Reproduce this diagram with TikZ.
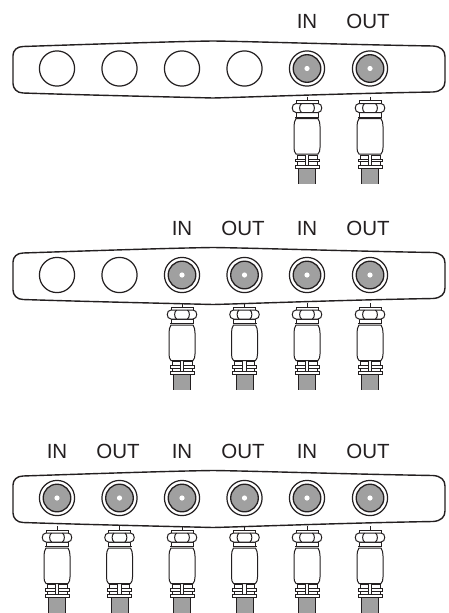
\documentclass[tikz,border=0pt]{standalone}
\usepackage{fontspec}
\setmainfont{Liberation Sans}
\definecolor{ink}{HTML}{231F20}
\definecolor{fillgray}{HTML}{A0A0A0}
\tikzset{
  x=1pt,y=-1pt,
  line join=round,
  panelline/.style={draw=ink,line width=1.4pt,fill=white},
  port/.style={draw=ink,line width=1.2pt,fill=white},
  part/.style={draw=ink,line width=1pt,fill=white},
  label/.style={font=\fontsize{20.5}{20.5}\selectfont,text=ink,inner sep=0pt,anchor=center},
  pics/emptyport/.style={code={\draw[port] (0,0) circle (17.6);}},
  pics/liveport/.style={code={
    \draw[port] (0,0) circle (17.6);
    \draw[draw=ink,line width=1.3pt,fill=fillgray] (0,0) circle (13.8);
    \fill[white] (0,0) circle (2.6);
  }},
  pics/plug/.style={code={
    % stem
    \draw[draw=ink,line width=.9pt] (0,28) -- (0,32);
    % cable
    \fill[fillgray] (-8.5,99) rectangle (8.5,115);
    \draw[draw=ink,line width=1pt] (-8.5,99) -- (-8.5,115) (8.5,99) -- (8.5,115);
    % ribs
    \draw[part] (-10,86.5) rectangle (-1.8,90.5);
    \draw[part] (1.8,86.5) rectangle (10,90.5);
    \draw[part] (-12,90.5) rectangle (-1.8,93);
    \draw[part] (1.8,90.5) rectangle (12,93);
    \draw[part] (-10,93) rectangle (-1.8,96.5);
    \draw[part] (1.8,93) rectangle (10,96.5);
    \draw[part] (-12,96.5) rectangle (12,99.5);
    % body
    \draw[part] (-11,50) .. controls (-12.5,52) and (-13,55) .. (-13,58) -- (-13,79) .. controls (-13,82) and (-12.5,84) .. (-11,85.5) -- (11,85.5) .. controls (12.5,84) and (13,82) .. (13,79) -- (13,58) .. controls (13,55) and (12.5,52) .. (11,50) -- cycle;
    % collar
    \draw[part] (-11,44) rectangle (11,48.5);
    \draw[part] (-12,48.5) -- (12,48.5);
    % nut
    \draw[part] (-11,32) rectangle (11,35.5);
    \draw[part] (-11,35) -- (11,35) .. controls (16,35) and (16,44) .. (11,44) -- (-11,44) .. controls (-16,44) and (-16,35) .. (-11,35) -- cycle;
    \draw[part,fill=none] (-5.5,35) .. controls (-8,37) and (-8,42) .. (-5.5,44) (5.5,35) .. controls (8,37) and (8,42) .. (5.5,44);
  }},
  pics/panel/.style={code={
    \draw[panelline] (-190,-22)
      .. controls (-130,-24) and (-40,-27) .. (0,-27.5)
      .. controls (40,-27) and (130,-24) .. (220,-22.5)
      .. controls (228,-22) and (232,-18) .. (232,-12)
      -- (232,13)
      .. controls (232,19) and (228,23) .. (220,23.5)
      .. controls (130,25) and (40,28.5) .. (0,29.5)
      .. controls (-40,28.5) and (-130,26.5) .. (-190,24.5)
      .. controls (-196,24.5) and (-200,20) .. (-200,15)
      -- (-200,-13)
      .. controls (-200,-18) and (-196,-22) .. (-190,-22)
      -- cycle;
  }}
}
\begin{document}
\begin{tikzpicture}
\useasboundingbox (0,0) rectangle (448,613);
% row 1
\pic at (213,68.5) {panel};
\foreach \px in {57,119.5,182,244.5} \pic at (\px,68.5) {emptyport};
\foreach \px in {307,370} {\pic at (\px,68.5) {liveport}; \pic at (\px,68.5) {plug};}
\node[label] (a1) at (307,21) {IN};
\node[label] (a2) at (368,21) {OUT};
% row 2
\pic at (213,275) {panel};
\foreach \px in {57,119.5} \pic at (\px,275) {emptyport};
\foreach \px in {182,244.5,307,370} {\pic at (\px,275) {liveport}; \pic at (\px,275) {plug};}
\node[label] (b1) at (182,228) {IN};
\node[label] (b2) at (243,228) {OUT};
\node[label] (b3) at (307,228) {IN};
\node[label] (b4) at (368,228) {OUT};
% row 3
\pic at (213,498) {panel};
\foreach \px in {57,119.5,182,244.5,307,370} {\pic at (\px,498) {liveport}; \pic at (\px,498) {plug};}
\node[label] (c1) at (57,451) {IN};
\node[label] (c2) at (118,451) {OUT};
\node[label] (c3) at (182,451) {IN};
\node[label] (c4) at (243,451) {OUT};
\node[label] (c5) at (307,451) {IN};
\node[label] (c6) at (368,451) {OUT};
\end{tikzpicture}
\end{document}
